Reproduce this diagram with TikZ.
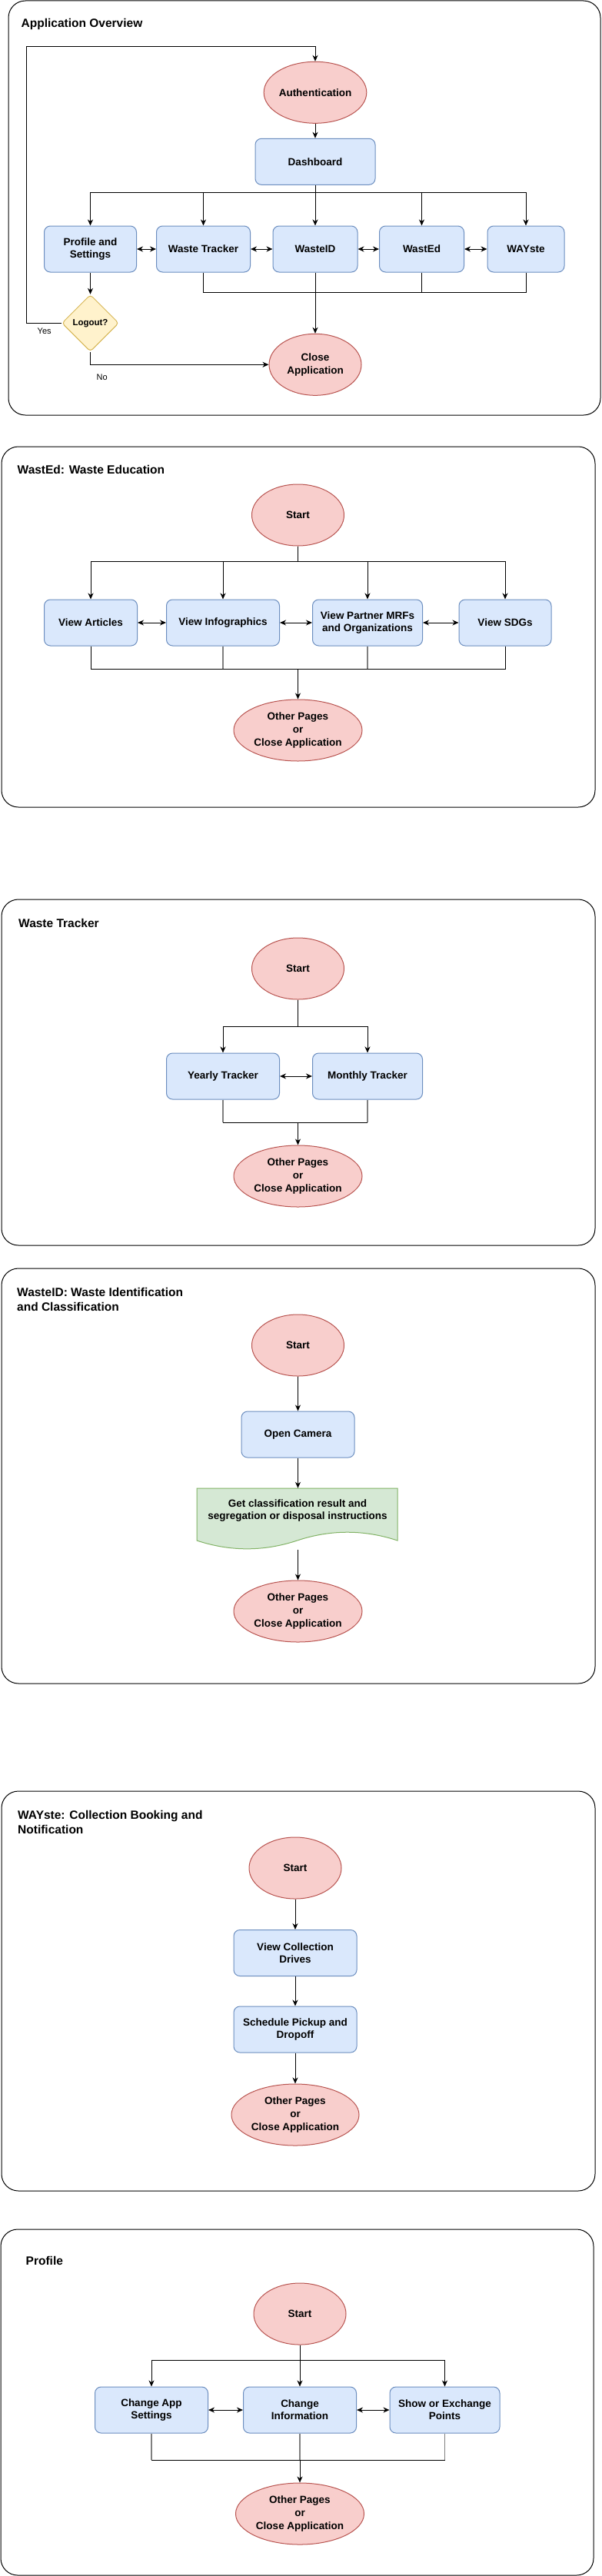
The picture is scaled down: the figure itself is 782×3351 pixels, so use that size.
\documentclass[tikz,border=0pt]{standalone}
\usepackage{fontspec}
\setmainfont{Liberation Sans}
\usetikzlibrary{shapes.geometric,arrows.meta,calc}
\definecolor{redfill}{HTML}{F8CECC}
\definecolor{redline}{HTML}{B85450}
\definecolor{bluefill}{HTML}{DAE8FC}
\definecolor{blueline}{HTML}{6C8EBF}
\definecolor{yelfill}{HTML}{FFF2CC}
\definecolor{yelline}{HTML}{D6B656}
\definecolor{grnfill}{HTML}{D5E8D4}
\definecolor{grnline}{HTML}{82B366}
\tikzset{
 secframe/.style={draw=black, line width=1pt, rounded corners=22pt, rectangle, inner sep=0pt},
 titletxt/.style={anchor=west, font=\fontsize{15.5}{19}\selectfont\bfseries, align=left, inner sep=0pt},
 termnode/.style={ellipse, draw=redline, fill=redfill, line width=1pt, minimum width=120pt, minimum height=80pt, inner sep=0pt, align=center, font=\fontsize{13.5}{17}\selectfont\bfseries},
 procnode/.style={rectangle, rounded corners=8pt, draw=blueline, fill=bluefill, line width=1pt, minimum height=60pt, inner sep=0pt, align=center, font=\fontsize{13.5}{16}\selectfont\bfseries},
 decnode/.style={diamond, aspect=1, draw=yelline, fill=yelfill, line width=1pt, minimum width=74pt, minimum height=74pt, inner sep=0pt, rounded corners=4pt, font=\fontsize{11.5}{14}\selectfont\bfseries},
 docnode/.style={rectangle, minimum width=261pt, minimum height=80pt, inner sep=0pt},
 doctxt/.style={align=center, inner sep=0pt, font=\fontsize{13.5}{16}\selectfont\bfseries},
 lbltxt/.style={inner sep=0pt, font=\fontsize{11}{13}\selectfont},
 lineconn/.style={draw=black, line width=1pt},
 grayconn/.style={draw=black!50, line width=1.5pt},
 arrconn/.style={lineconn, -{Stealth[length=8pt,width=7pt,inset=2.5pt]}},
 dblconn/.style={lineconn, {Stealth[length=8pt,width=7pt,inset=2.5pt]}-{Stealth[length=8pt,width=7pt,inset=2.5pt]}},
}
\begin{document}
\begin{tikzpicture}[x=1pt,y=-1pt]
\useasboundingbox (0,0) rectangle (782,3351);

% ---------- Section 1: Application Overview ----------
\node[secframe, minimum width=770pt, minimum height=539pt] (sec1) at (396,270.5) {};
\node[titletxt] (t1) at (27.5,31) {Application Overview};
\node[termnode] (auth) at (410,120.3) {Authentication};
\node[procnode, minimum width=156pt] (dash) at (410,210.3) {Dashboard};
\node[procnode, minimum width=120pt] (prof) at (117.5,324) {Profile and\\Settings};
\node[procnode, minimum width=122pt] (wt) at (264.5,324) {Waste Tracker};
\node[procnode, minimum width=110pt] (wid) at (410,324) {WasteID};
\node[procnode, minimum width=110pt] (wed) at (548.5,324) {WastEd};
\node[procnode, minimum width=100pt] (way) at (684,324) {WAYste};
\node[decnode] (logout) at (117.5,420.3) {Logout?};
\node[termnode] (close) at (410,474.3) {Close\\Application};
\node[lbltxt] (yes) at (57.7,431) {Yes};
\node[lbltxt] (no) at (132.7,490.7) {No};

\coordinate (bus1) at (410,250.4);
\coordinate (bus2) at (410,380);
\coordinate (loopc) at (34.3,60.3);
\draw[arrconn] (auth) -- (dash);
\draw[lineconn] (dash.south) -- (bus1);
\draw[arrconn] (bus1) -| (prof.north);
\draw[arrconn] (bus1) -| (wt.north);
\draw[arrconn] (bus1) -- (wid.north);
\draw[arrconn] (bus1) -| (wed.north);
\draw[arrconn] (bus1) -| (way.north);
\draw[dblconn] (prof.east) -- (wt.west);
\draw[dblconn] (wt.east) -- (wid.west);
\draw[dblconn] (wid.east) -- (wed.west);
\draw[dblconn] (wed.east) -- (way.west);
\draw[lineconn] (wt.south) |- (bus2);
\draw[lineconn] (way.south) |- (bus2);
\draw[lineconn] (wed.south) -- (wed.south |- bus2);
\draw[arrconn] (wid.south) -- (close.north);
\draw[arrconn] (prof.south) -- (logout.north);
\draw[arrconn] (logout.west) -| (loopc) -| (auth.north);
\draw[arrconn] (logout.south) |- (close.west);

% ---------- Section 2: WastEd ----------
\node[secframe, minimum width=772pt, minimum height=469pt] (sec2) at (388,815.5) {};
\node[titletxt] (t2) at (22.5,611) {WastEd: Waste Education};
\node[termnode] (st2) at (387.5,670) {Start};
\node[procnode, minimum width=121pt] (va) at (118,810) {View Articles};
\node[procnode, minimum width=147pt] (vi) at (290,810) {View Infographics};
\node[procnode, minimum width=143pt] (vp) at (478,810) {View Partner MRFs\\and Organizations};
\node[procnode, minimum width=120pt] (vs) at (657,810) {View SDGs};
\node[termnode, minimum width=167pt] (end2) at (387.5,950) {Other Pages\\or\\Close Application};
\coordinate (b21) at (387.5,730);
\coordinate (b22) at (387.5,870);
\draw[lineconn] (st2.south) -- (b21);
\draw[arrconn] (b21) -| (va.north);
\draw[arrconn] (b21) -| (vi.north);
\draw[arrconn] (b21) -| (vp.north);
\draw[arrconn] (b21) -| (vs.north);
\draw[dblconn] (va.east) -- (vi.west);
\draw[dblconn] (vi.east) -- (vp.west);
\draw[dblconn] (vp.east) -- (vs.west);
\draw[lineconn] (va.south) |- (b22);
\draw[lineconn] (vs.south) |- (b22);
\draw[grayconn] (vi.south) -- (vi.south |- b22);
\draw[grayconn] (vp.south) -- (vp.south |- b22);
\draw[arrconn] (b22) -- (end2.north);

% ---------- Section 3: Waste Tracker ----------
\node[secframe, minimum width=772pt, minimum height=450pt] (sec3) at (388,1395) {};
\node[titletxt] (t3) at (24,1201) {Waste Tracker};
\node[termnode] (st3) at (387.5,1260) {Start};
\node[procnode, minimum width=147pt] (yt) at (290,1400) {Yearly Tracker};
\node[procnode, minimum width=143pt] (mt) at (478,1400) {Monthly Tracker};
\node[termnode, minimum width=167pt] (end3) at (387.5,1530) {Other Pages\\or\\Close Application};
\coordinate (b31) at (387.5,1335);
\coordinate (b32) at (387.5,1460);
\draw[lineconn] (st3.south) -- (b31);
\draw[arrconn] (b31) -| (yt.north);
\draw[arrconn] (b31) -| (mt.north);
\draw[dblconn] (yt.east) -- (mt.west);
\draw[grayconn] (yt.south) -- (yt.south |- b32);
\draw[grayconn] (mt.south) -- (mt.south |- b32);
\draw[lineconn] (yt.south |- b32) -- (mt.south |- b32);
\draw[arrconn] (b32) -- (end3.north);

% ---------- Section 4: WasteID ----------
\node[secframe, minimum width=772pt, minimum height=540pt] (sec4) at (388,1920) {};
\node[titletxt] (t4) at (22,1690.5) {WasteID: Waste Identification\\and Classification};
\node[termnode] (st4) at (387.5,1750) {Start};
\node[procnode, minimum width=147pt] (cam) at (387.5,1866) {Open Camera};
\node[docnode] (doc) at (386.5,1976) {};
\draw[draw=grnline, fill=grnfill, line width=1pt]
  (256,1936) -- (517,1936) -- (517,2004)
  .. controls (473.5,1989.6) and (430,1989.6) .. (386.5,2004)
  .. controls (343,2018.4) and (299.5,2018.4) .. (256,2004) -- cycle;
\node[doctxt] (doclbl) at (387,1964.7) {Get classification result and\\segregation or disposal instructions};
\node[termnode, minimum width=167pt] (end4) at (387.5,2096) {Other Pages\\or\\Close Application};
\draw[arrconn] (st4) -- (cam);
\draw[arrconn] (cam.south) -- (cam.south |- doc.north);
\draw[arrconn] (cam.south |- doc.south) -- (end4.north);

% ---------- Section 5: WAYste ----------
\node[secframe, minimum width=772pt, minimum height=520pt] (sec5) at (388,2590) {};
\node[titletxt] (t5) at (23,2370.5) {WAYste: Collection Booking and\\Notification};
\node[termnode] (st5) at (384,2430) {Start};
\node[procnode, minimum width=160pt] (vcd) at (384,2540.5) {View Collection\\Drives};
\node[procnode, minimum width=160pt] (spd) at (384,2640) {Schedule Pickup and\\Dropoff};
\node[termnode, minimum width=166pt] (end5) at (384,2751) {Other Pages\\or\\Close Application};
\draw[arrconn] (st5) -- (vcd);
\draw[arrconn] (vcd) -- (spd);
\draw[arrconn] (spd) -- (end5);

% ---------- Section 6: Profile ----------
\node[secframe, minimum width=771pt, minimum height=450pt] (sec6) at (386.5,3125) {};
\node[titletxt] (t6) at (33.5,2941) {Profile};
\node[termnode] (st6) at (390,3010) {Start};
\node[procnode, minimum width=147pt] (cas) at (197,3135) {Change App\\Settings};
\node[procnode, minimum width=147pt] (ci) at (390,3135) {Change\\Information};
\node[procnode, minimum width=143pt] (sep) at (578.5,3135) {Show or Exchange\\Points};
\node[termnode, minimum width=167pt] (end6) at (390,3270) {Other Pages\\or\\Close Application};
\coordinate (b61) at (390,3070);
\coordinate (b62) at (390,3200);
\draw[arrconn] (st6) -- (ci);
\draw[arrconn] (b61) -| (cas.north);
\draw[arrconn] (b61) -| (sep.north);
\draw[dblconn] (cas.east) -- (ci.west);
\draw[dblconn] (ci.east) -- (sep.west);
\draw[grayconn] (cas.south) -- (cas.south |- b62);
\draw[grayconn] (sep.south) -- (sep.south |- b62);
\draw[grayconn] (ci.south) -- (b62);
\draw[lineconn] (cas.south |- b62) -- (sep.south |- b62);
\draw[arrconn] (b62) -- (end6.north);
\end{tikzpicture}
\end{document}
